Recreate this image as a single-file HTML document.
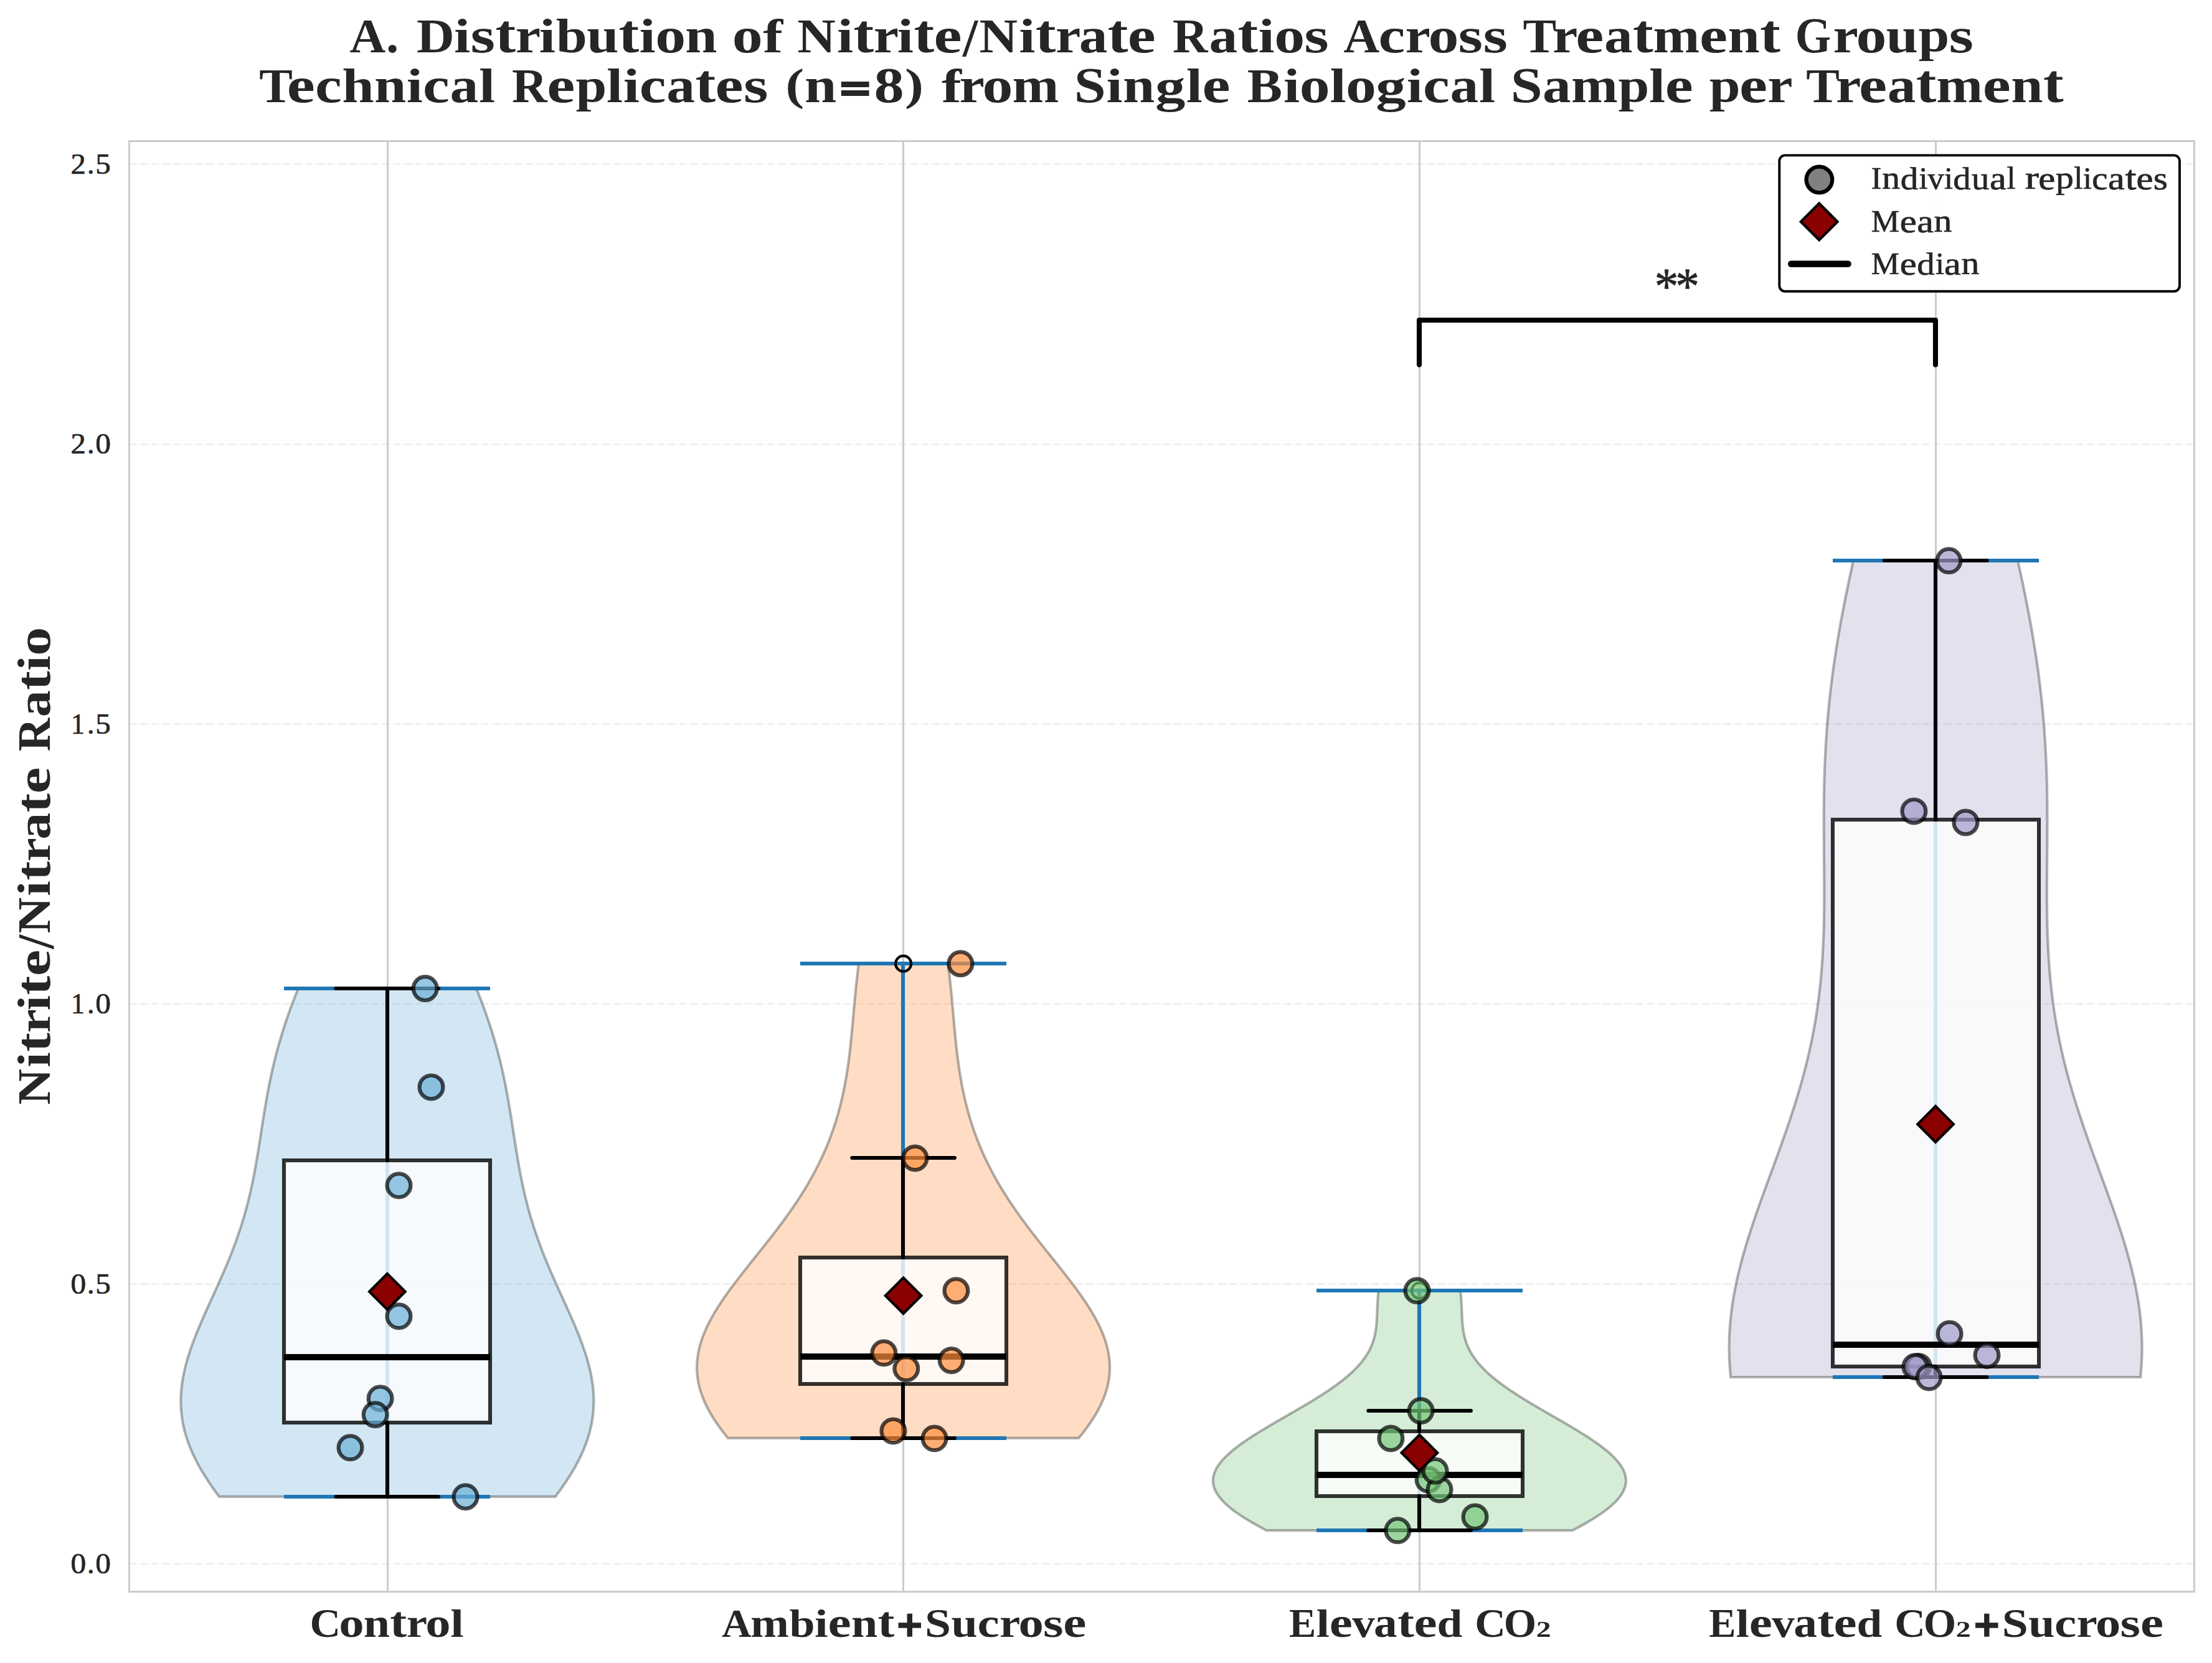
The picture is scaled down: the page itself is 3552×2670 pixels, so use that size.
<!DOCTYPE html>
<html><head><meta charset="utf-8"><title>Nitrite/Nitrate Ratios</title>
<style>html,body{margin:0;padding:0;background:#fff}body{width:3552px;height:2670px;overflow:hidden;font-family:"Liberation Serif",serif}svg{display:block}</style>
</head><body>
<svg width="3552" height="2670" viewBox="0 0 3552 2670">
<rect width="3552" height="2670" fill="#ffffff"/>
<g stroke="#cccccc" stroke-width="3.1" fill="none">
<line x1="622.5" y1="226.5" x2="622.5" y2="2555.5"/>
<line x1="1450.5" y1="226.5" x2="1450.5" y2="2555.5"/>
<line x1="2279.5" y1="226.5" x2="2279.5" y2="2555.5"/>
<line x1="3108.5" y1="226.5" x2="3108.5" y2="2555.5"/>
</g>
<g stroke="#cccccc" stroke-opacity="0.3" stroke-width="3.1" stroke-dasharray="12.33 5.33" fill="none">
<line x1="207.5" y1="2510.5" x2="3523.5" y2="2510.5"/>
<line x1="207.5" y1="2061.5" x2="3523.5" y2="2061.5"/>
<line x1="207.5" y1="1611.5" x2="3523.5" y2="1611.5"/>
<line x1="207.5" y1="1162.5" x2="3523.5" y2="1162.5"/>
<line x1="207.5" y1="713.5" x2="3523.5" y2="713.5"/>
<line x1="207.5" y1="263.5" x2="3523.5" y2="263.5"/>
</g>
<path d="M352.02,2402.9 L345.9,2394.66 340.03,2386.42 334.42,2378.17 329.09,2369.93 324.06,2361.69 319.34,2353.45 314.96,2345.2 310.91,2336.96 307.21,2328.72 303.86,2320.48 300.88,2312.23 298.28,2303.99 296.04,2295.75 294.18,2287.51 292.69,2279.26 291.57,2271.02 290.82,2262.78 290.43,2254.54 290.4,2246.29 290.71,2238.05 291.36,2229.81 292.32,2221.57 293.6,2213.32 295.17,2205.08 297.02,2196.84 299.13,2188.6 301.48,2180.35 304.05,2172.11 306.83,2163.87 309.8,2155.63 312.93,2147.38 316.21,2139.14 319.62,2130.9 323.13,2122.66 326.72,2114.42 330.38,2106.17 334.09,2097.93 337.83,2089.69 341.58,2081.45 345.33,2073.2 349.05,2064.96 352.74,2056.72 356.38,2048.48 359.96,2040.23 363.47,2031.99 366.89,2023.75 370.22,2015.51 373.45,2007.26 376.58,1999.02 379.59,1990.78 382.48,1982.54 385.26,1974.29 387.92,1966.05 390.46,1957.81 392.88,1949.57 395.18,1941.32 397.37,1933.08 399.45,1924.84 401.42,1916.6 403.29,1908.35 405.07,1900.11 406.76,1891.87 408.36,1883.63 409.9,1875.38 411.37,1867.14 412.79,1858.9 414.16,1850.66 415.49,1842.42 416.8,1834.17 418.09,1825.93 419.36,1817.69 420.64,1809.45 421.93,1801.2 423.24,1792.96 424.57,1784.72 425.94,1776.48 427.35,1768.23 428.81,1759.99 430.33,1751.75 431.92,1743.51 433.57,1735.26 435.31,1727.02 437.12,1718.78 439.02,1710.54 441.01,1702.29 443.09,1694.05 445.27,1685.81 447.55,1677.57 449.92,1669.32 452.39,1661.08 454.97,1652.84 457.64,1644.6 460.4,1636.35 463.26,1628.11 466.22,1619.87 469.26,1611.63 472.39,1603.38 475.6,1595.14 478.89,1586.9 764.91,1586.9 768.2,1595.14 771.41,1603.38 774.54,1611.63 777.58,1619.87 780.54,1628.11 783.4,1636.35 786.16,1644.6 788.83,1652.84 791.41,1661.08 793.88,1669.32 796.25,1677.57 798.53,1685.81 800.71,1694.05 802.79,1702.29 804.78,1710.54 806.68,1718.78 808.49,1727.02 810.23,1735.26 811.88,1743.51 813.47,1751.75 814.99,1759.99 816.45,1768.23 817.86,1776.48 819.23,1784.72 820.56,1792.96 821.87,1801.2 823.16,1809.45 824.44,1817.69 825.71,1825.93 827,1834.17 828.31,1842.42 829.64,1850.66 831.01,1858.9 832.43,1867.14 833.9,1875.38 835.44,1883.63 837.04,1891.87 838.73,1900.11 840.51,1908.35 842.38,1916.6 844.35,1924.84 846.43,1933.08 848.62,1941.32 850.92,1949.57 853.34,1957.81 855.88,1966.05 858.54,1974.29 861.32,1982.54 864.21,1990.78 867.22,1999.02 870.35,2007.26 873.58,2015.51 876.91,2023.75 880.33,2031.99 883.84,2040.23 887.42,2048.48 891.06,2056.72 894.75,2064.96 898.47,2073.2 902.22,2081.45 905.97,2089.69 909.71,2097.93 913.42,2106.17 917.08,2114.42 920.67,2122.66 924.18,2130.9 927.59,2139.14 930.87,2147.38 934,2155.63 936.97,2163.87 939.75,2172.11 942.32,2180.35 944.67,2188.6 946.78,2196.84 948.63,2205.08 950.2,2213.32 951.48,2221.57 952.44,2229.81 953.09,2238.05 953.4,2246.29 953.37,2254.54 952.98,2262.78 952.23,2271.02 951.11,2279.26 949.62,2287.51 947.76,2295.75 945.52,2303.99 942.92,2312.23 939.94,2320.48 936.59,2328.72 932.89,2336.96 928.84,2345.2 924.46,2353.45 919.74,2361.69 914.71,2369.93 909.38,2378.17 903.77,2386.42 897.9,2394.66 891.78,2402.9 Z" fill="#6baed6" fill-opacity="0.3" stroke="#000" stroke-opacity="0.3" stroke-width="4.17" stroke-linejoin="miter"/>
<path d="M1168.97,2308.9 L1162.77,2301.2 1156.9,2293.51 1151.4,2285.81 1146.27,2278.11 1141.54,2270.42 1137.23,2262.72 1133.35,2255.02 1129.91,2247.32 1126.94,2239.63 1124.43,2231.93 1122.4,2224.23 1120.86,2216.54 1119.79,2208.84 1119.2,2201.14 1119.1,2193.45 1119.47,2185.75 1120.31,2178.05 1121.6,2170.35 1123.34,2162.66 1125.51,2154.96 1128.1,2147.26 1131.09,2139.57 1134.45,2131.87 1138.17,2124.17 1142.23,2116.48 1146.6,2108.78 1151.25,2101.08 1156.17,2093.38 1161.33,2085.69 1166.7,2077.99 1172.25,2070.29 1177.97,2062.6 1183.82,2054.9 1189.77,2047.2 1195.82,2039.51 1201.92,2031.81 1208.06,2024.11 1214.22,2016.42 1220.37,2008.72 1226.5,2001.02 1232.59,1993.32 1238.61,1985.63 1244.56,1977.93 1250.41,1970.23 1256.16,1962.54 1261.8,1954.84 1267.31,1947.14 1272.68,1939.45 1277.91,1931.75 1282.98,1924.05 1287.9,1916.35 1292.67,1908.66 1297.26,1900.96 1301.69,1893.26 1305.95,1885.57 1310.05,1877.87 1313.97,1870.17 1317.72,1862.48 1321.31,1854.78 1324.73,1847.08 1327.99,1839.38 1331.09,1831.69 1334.03,1823.99 1336.81,1816.29 1339.45,1808.6 1341.93,1800.9 1344.28,1793.2 1346.48,1785.51 1348.56,1777.81 1350.5,1770.11 1352.32,1762.42 1354.02,1754.72 1355.6,1747.02 1357.08,1739.32 1358.46,1731.63 1359.75,1723.93 1360.94,1716.23 1362.05,1708.54 1363.09,1700.84 1364.05,1693.14 1364.96,1685.45 1365.81,1677.75 1366.61,1670.05 1367.38,1662.35 1368.11,1654.66 1368.82,1646.96 1369.51,1639.26 1370.19,1631.57 1370.87,1623.87 1371.56,1616.17 1372.25,1608.48 1372.97,1600.78 1373.71,1593.08 1374.48,1585.38 1375.28,1577.69 1376.13,1569.99 1377.02,1562.29 1377.96,1554.6 1378.96,1546.9 1522.24,1546.9 1523.24,1554.6 1524.18,1562.29 1525.07,1569.99 1525.92,1577.69 1526.72,1585.38 1527.49,1593.08 1528.23,1600.78 1528.95,1608.48 1529.64,1616.17 1530.33,1623.87 1531.01,1631.57 1531.69,1639.26 1532.38,1646.96 1533.09,1654.66 1533.82,1662.35 1534.59,1670.05 1535.39,1677.75 1536.24,1685.45 1537.15,1693.14 1538.11,1700.84 1539.15,1708.54 1540.26,1716.23 1541.45,1723.93 1542.74,1731.63 1544.12,1739.32 1545.6,1747.02 1547.18,1754.72 1548.88,1762.42 1550.7,1770.11 1552.64,1777.81 1554.72,1785.51 1556.92,1793.2 1559.27,1800.9 1561.75,1808.6 1564.39,1816.29 1567.17,1823.99 1570.11,1831.69 1573.21,1839.38 1576.47,1847.08 1579.89,1854.78 1583.48,1862.48 1587.23,1870.17 1591.15,1877.87 1595.25,1885.57 1599.51,1893.26 1603.94,1900.96 1608.53,1908.66 1613.3,1916.35 1618.22,1924.05 1623.29,1931.75 1628.52,1939.45 1633.89,1947.14 1639.4,1954.84 1645.04,1962.54 1650.79,1970.23 1656.64,1977.93 1662.59,1985.63 1668.61,1993.32 1674.7,2001.02 1680.83,2008.72 1686.98,2016.42 1693.14,2024.11 1699.28,2031.81 1705.38,2039.51 1711.43,2047.2 1717.38,2054.9 1723.23,2062.6 1728.95,2070.29 1734.5,2077.99 1739.87,2085.69 1745.03,2093.38 1749.95,2101.08 1754.6,2108.78 1758.97,2116.48 1763.03,2124.17 1766.75,2131.87 1770.11,2139.57 1773.1,2147.26 1775.69,2154.96 1777.86,2162.66 1779.6,2170.35 1780.89,2178.05 1781.73,2185.75 1782.1,2193.45 1782,2201.14 1781.41,2208.84 1780.34,2216.54 1778.8,2224.23 1776.77,2231.93 1774.26,2239.63 1771.29,2247.32 1767.85,2255.02 1763.97,2262.72 1759.66,2270.42 1754.93,2278.11 1749.8,2285.81 1744.3,2293.51 1738.43,2301.2 1732.23,2308.9 Z" fill="#fd8d3c" fill-opacity="0.3" stroke="#000" stroke-opacity="0.3" stroke-width="4.17" stroke-linejoin="miter"/>
<path d="M2033.6,2457.1 L2026.29,2453.21 2019.18,2449.32 2012.29,2445.43 2005.65,2441.54 1999.28,2437.65 1993.2,2433.75 1987.43,2429.86 1981.99,2425.97 1976.91,2422.08 1972.19,2418.19 1967.86,2414.3 1963.93,2410.41 1960.41,2406.52 1957.31,2402.63 1954.64,2398.74 1952.41,2394.85 1950.61,2390.95 1949.27,2387.06 1948.37,2383.17 1947.91,2379.28 1947.9,2375.39 1948.33,2371.5 1949.19,2367.61 1950.48,2363.72 1952.18,2359.83 1954.29,2355.94 1956.8,2352.05 1959.69,2348.15 1962.95,2344.26 1966.56,2340.37 1970.51,2336.48 1974.78,2332.59 1979.36,2328.7 1984.22,2324.81 1989.34,2320.92 1994.72,2317.03 2000.32,2313.14 2006.13,2309.25 2012.12,2305.35 2018.28,2301.46 2024.59,2297.57 2031.02,2293.68 2037.55,2289.79 2044.17,2285.9 2050.85,2282.01 2057.58,2278.12 2064.33,2274.23 2071.08,2270.34 2077.82,2266.45 2084.52,2262.55 2091.17,2258.66 2097.75,2254.77 2104.24,2250.88 2110.62,2246.99 2116.88,2243.1 2123.01,2239.21 2128.98,2235.32 2134.79,2231.43 2140.42,2227.54 2145.87,2223.65 2151.11,2219.75 2156.14,2215.86 2160.95,2211.97 2165.54,2208.08 2169.89,2204.19 2174.01,2200.3 2177.88,2196.41 2181.51,2192.52 2184.9,2188.63 2188.04,2184.74 2190.95,2180.85 2193.61,2176.95 2196.04,2173.06 2198.25,2169.17 2200.23,2165.28 2202,2161.39 2203.57,2157.5 2204.94,2153.61 2206.14,2149.72 2207.16,2145.83 2208.04,2141.94 2208.77,2138.05 2209.37,2134.15 2209.87,2130.26 2210.27,2126.37 2210.59,2122.48 2210.84,2118.59 2211.05,2114.7 2211.21,2110.81 2211.36,2106.92 2211.51,2103.03 2211.66,2099.14 2211.83,2095.25 2212.04,2091.35 2212.29,2087.46 2212.59,2083.57 2212.95,2079.68 2213.39,2075.79 2213.9,2071.9 2344.9,2071.9 2345.41,2075.79 2345.85,2079.68 2346.21,2083.57 2346.51,2087.46 2346.76,2091.35 2346.97,2095.25 2347.14,2099.14 2347.29,2103.03 2347.44,2106.92 2347.59,2110.81 2347.75,2114.7 2347.96,2118.59 2348.21,2122.48 2348.53,2126.37 2348.93,2130.26 2349.43,2134.15 2350.03,2138.05 2350.76,2141.94 2351.64,2145.83 2352.66,2149.72 2353.86,2153.61 2355.23,2157.5 2356.8,2161.39 2358.57,2165.28 2360.55,2169.17 2362.76,2173.06 2365.19,2176.95 2367.85,2180.85 2370.76,2184.74 2373.9,2188.63 2377.29,2192.52 2380.92,2196.41 2384.79,2200.3 2388.91,2204.19 2393.26,2208.08 2397.85,2211.97 2402.66,2215.86 2407.69,2219.75 2412.93,2223.65 2418.38,2227.54 2424.01,2231.43 2429.82,2235.32 2435.79,2239.21 2441.92,2243.1 2448.18,2246.99 2454.56,2250.88 2461.05,2254.77 2467.63,2258.66 2474.28,2262.55 2480.98,2266.45 2487.72,2270.34 2494.47,2274.23 2501.22,2278.12 2507.95,2282.01 2514.63,2285.9 2521.25,2289.79 2527.78,2293.68 2534.21,2297.57 2540.52,2301.46 2546.68,2305.35 2552.67,2309.25 2558.48,2313.14 2564.08,2317.03 2569.46,2320.92 2574.58,2324.81 2579.44,2328.7 2584.02,2332.59 2588.29,2336.48 2592.24,2340.37 2595.85,2344.26 2599.11,2348.15 2602,2352.05 2604.51,2355.94 2606.62,2359.83 2608.32,2363.72 2609.61,2367.61 2610.47,2371.5 2610.9,2375.39 2610.89,2379.28 2610.43,2383.17 2609.53,2387.06 2608.19,2390.95 2606.39,2394.85 2604.16,2398.74 2601.49,2402.63 2598.39,2406.52 2594.87,2410.41 2590.94,2414.3 2586.61,2418.19 2581.89,2422.08 2576.81,2425.97 2571.37,2429.86 2565.6,2433.75 2559.52,2437.65 2553.15,2441.54 2546.51,2445.43 2539.62,2449.32 2532.51,2453.21 2525.2,2457.1 Z" fill="#74c476" fill-opacity="0.3" stroke="#000" stroke-opacity="0.3" stroke-width="4.17" stroke-linejoin="miter"/>
<path d="M2779.14,2211 L2777.9,2197.76 2777.06,2184.52 2776.63,2171.27 2776.6,2158.03 2776.96,2144.79 2777.72,2131.55 2778.85,2118.3 2780.35,2105.06 2782.2,2091.82 2784.4,2078.58 2786.92,2065.33 2789.75,2052.09 2792.87,2038.85 2796.26,2025.61 2799.9,2012.36 2803.77,1999.12 2807.84,1985.88 2812.09,1972.64 2816.51,1959.39 2821.05,1946.15 2825.71,1932.91 2830.46,1919.67 2835.26,1906.42 2840.11,1893.18 2844.97,1879.94 2849.83,1866.7 2854.66,1853.45 2859.44,1840.21 2864.14,1826.97 2868.76,1813.73 2873.28,1800.48 2877.67,1787.24 2881.92,1774 2886.03,1760.76 2889.96,1747.52 2893.73,1734.27 2897.31,1721.03 2900.7,1707.79 2903.89,1694.55 2906.88,1681.3 2909.67,1668.06 2912.24,1654.82 2914.62,1641.58 2916.79,1628.33 2918.75,1615.09 2920.52,1601.85 2922.1,1588.61 2923.49,1575.36 2924.7,1562.12 2925.74,1548.88 2926.63,1535.64 2927.36,1522.39 2927.95,1509.15 2928.42,1495.91 2928.78,1482.67 2929.03,1469.42 2929.19,1456.18 2929.27,1442.94 2929.29,1429.7 2929.26,1416.45 2929.19,1403.21 2929.1,1389.97 2928.99,1376.73 2928.89,1363.48 2928.8,1350.24 2928.73,1337 2928.69,1323.76 2928.7,1310.52 2928.76,1297.27 2928.88,1284.03 2929.08,1270.79 2929.36,1257.55 2929.72,1244.3 2930.17,1231.06 2930.73,1217.82 2931.38,1204.58 2932.14,1191.33 2933.02,1178.09 2934,1164.85 2935.1,1151.61 2936.32,1138.36 2937.65,1125.12 2939.1,1111.88 2940.66,1098.64 2942.34,1085.39 2944.13,1072.15 2946.03,1058.91 2948.04,1045.67 2950.15,1032.42 2952.36,1019.18 2954.68,1005.94 2957.08,992.7 2959.57,979.45 2962.15,966.21 2964.8,952.97 2967.52,939.73 2970.32,926.48 2973.17,913.24 2976.09,900 3240.11,900 3243.03,913.24 3245.88,926.48 3248.68,939.73 3251.4,952.97 3254.05,966.21 3256.63,979.45 3259.12,992.7 3261.52,1005.94 3263.84,1019.18 3266.05,1032.42 3268.16,1045.67 3270.17,1058.91 3272.07,1072.15 3273.86,1085.39 3275.54,1098.64 3277.1,1111.88 3278.55,1125.12 3279.88,1138.36 3281.1,1151.61 3282.2,1164.85 3283.18,1178.09 3284.06,1191.33 3284.82,1204.58 3285.47,1217.82 3286.03,1231.06 3286.48,1244.3 3286.84,1257.55 3287.12,1270.79 3287.32,1284.03 3287.44,1297.27 3287.5,1310.52 3287.51,1323.76 3287.47,1337 3287.4,1350.24 3287.31,1363.48 3287.21,1376.73 3287.1,1389.97 3287.01,1403.21 3286.94,1416.45 3286.91,1429.7 3286.93,1442.94 3287.01,1456.18 3287.17,1469.42 3287.42,1482.67 3287.78,1495.91 3288.25,1509.15 3288.84,1522.39 3289.57,1535.64 3290.46,1548.88 3291.5,1562.12 3292.71,1575.36 3294.1,1588.61 3295.68,1601.85 3297.45,1615.09 3299.41,1628.33 3301.58,1641.58 3303.96,1654.82 3306.53,1668.06 3309.32,1681.3 3312.31,1694.55 3315.5,1707.79 3318.89,1721.03 3322.47,1734.27 3326.24,1747.52 3330.17,1760.76 3334.28,1774 3338.53,1787.24 3342.92,1800.48 3347.44,1813.73 3352.06,1826.97 3356.76,1840.21 3361.54,1853.45 3366.37,1866.7 3371.23,1879.94 3376.09,1893.18 3380.94,1906.42 3385.74,1919.67 3390.49,1932.91 3395.15,1946.15 3399.69,1959.39 3404.11,1972.64 3408.36,1985.88 3412.43,1999.12 3416.3,2012.36 3419.94,2025.61 3423.33,2038.85 3426.45,2052.09 3429.28,2065.33 3431.8,2078.58 3434,2091.82 3435.85,2105.06 3437.35,2118.3 3438.48,2131.55 3439.24,2144.79 3439.6,2158.03 3439.57,2171.27 3439.14,2184.52 3438.3,2197.76 3437.06,2211 Z" fill="#9e9ac8" fill-opacity="0.3" stroke="#000" stroke-opacity="0.3" stroke-width="4.17" stroke-linejoin="miter"/>
<g stroke="#1f77b4" stroke-width="6.1" fill="none">
<line x1="622" y1="1586.9" x2="622" y2="2402.9"/>
<line x1="456" y1="1587" x2="787" y2="1587"/>
<line x1="456" y1="2403" x2="787" y2="2403"/>
<line x1="1450" y1="1546.9" x2="1450" y2="2308.9"/>
<line x1="1285" y1="1547" x2="1616" y2="1547"/>
<line x1="1285" y1="2309" x2="1616" y2="2309"/>
<line x1="2279" y1="2071.9" x2="2279" y2="2457.1"/>
<line x1="2114" y1="2072" x2="2445" y2="2072"/>
<line x1="2114" y1="2457" x2="2445" y2="2457"/>
<line x1="3108" y1="900" x2="3108" y2="2211"/>
<line x1="2943" y1="900" x2="3274" y2="900"/>
<line x1="2943" y1="2211" x2="3274" y2="2211"/>
</g>
<rect x="456" y="1863" width="331" height="421" fill="#fff" fill-opacity="0.8" stroke="#000" stroke-opacity="0.8" stroke-width="6.1"/>
<rect x="1285" y="2019" width="331" height="203" fill="#fff" fill-opacity="0.8" stroke="#000" stroke-opacity="0.8" stroke-width="6.1"/>
<rect x="2114" y="2298" width="331" height="104" fill="#fff" fill-opacity="0.8" stroke="#000" stroke-opacity="0.8" stroke-width="6.1"/>
<rect x="2943" y="1316" width="331" height="878" fill="#fff" fill-opacity="0.8" stroke="#000" stroke-opacity="0.8" stroke-width="6.1"/>
<g stroke="#000" stroke-width="6.1" stroke-linecap="round" fill="none">
<line x1="622" y1="1863.1" x2="622" y2="1586.9"/>
<line x1="622" y1="2283.9" x2="622" y2="2402.9"/>
<line x1="539.4" y1="1587" x2="704" y2="1587"/>
<line x1="539.4" y1="2403" x2="704" y2="2403"/>
<line x1="1450" y1="2019" x2="1450" y2="1859"/>
<line x1="1450" y1="2222" x2="1450" y2="2308.9"/>
<line x1="1368.3" y1="1859" x2="1532.9" y2="1859"/>
<line x1="1368.3" y1="2309" x2="1532.9" y2="2309"/>
<line x1="2279" y1="2298.1" x2="2279" y2="2264.9"/>
<line x1="2279" y1="2402.1" x2="2279" y2="2457.1"/>
<line x1="2197.3" y1="2265" x2="2361.9" y2="2265"/>
<line x1="2197.3" y1="2457" x2="2361.9" y2="2457"/>
<line x1="3108" y1="1315.9" x2="3108" y2="900"/>
<line x1="3108" y1="2193.9" x2="3108" y2="2211"/>
<line x1="3025.9" y1="900" x2="3190.5" y2="900"/>
<line x1="3025.9" y1="2211" x2="3190.5" y2="2211"/>
</g>
<g stroke="#000" stroke-width="10.1" fill="none">
<line x1="456" y1="2179" x2="787" y2="2179"/>
<line x1="1285" y1="2178" x2="1616" y2="2178"/>
<line x1="2114" y1="2368" x2="2445" y2="2368"/>
<line x1="2943" y1="2159" x2="3274" y2="2159"/>
</g>
<circle cx="1450.6" cy="1547.2" r="12.5" fill="none" stroke="#000" stroke-width="4.17"/>
<circle cx="2279.4" cy="2072.2" r="12.5" fill="none" stroke="#000" stroke-width="4.17"/>
<g fill="#6baed6" fill-opacity="0.7" stroke="#000" stroke-opacity="0.7" stroke-width="6.25">
<circle cx="682.7" cy="1587.1" r="18.9"/>
<circle cx="692.5" cy="1745.4" r="18.9"/>
<circle cx="640.5" cy="1903.3" r="18.9"/>
<circle cx="640.5" cy="2113.3" r="18.9"/>
<circle cx="610.6" cy="2245.3" r="18.9"/>
<circle cx="602.6" cy="2271.3" r="18.9"/>
<circle cx="562.5" cy="2324.3" r="18.9"/>
<circle cx="747.5" cy="2403.2" r="18.9"/>
</g>
<g fill="#fd8d3c" fill-opacity="0.7" stroke="#000" stroke-opacity="0.7" stroke-width="6.25">
<circle cx="1542.4" cy="1547.2" r="18.9"/>
<circle cx="1469.4" cy="1859.4" r="18.9"/>
<circle cx="1535.4" cy="2072.3" r="18.9"/>
<circle cx="1419.3" cy="2172.3" r="18.9"/>
<circle cx="1527.7" cy="2184.1" r="18.9"/>
<circle cx="1455.3" cy="2197.3" r="18.9"/>
<circle cx="1434.4" cy="2297.5" r="18.9"/>
<circle cx="1500.5" cy="2309.5" r="18.9"/>
</g>
<g fill="#74c476" fill-opacity="0.7" stroke="#000" stroke-opacity="0.7" stroke-width="6.25">
<circle cx="2275.5" cy="2072.3" r="18.9"/>
<circle cx="2281.6" cy="2265.1" r="18.9"/>
<circle cx="2233.4" cy="2309.4" r="18.9"/>
<circle cx="2293.6" cy="2375.8" r="18.9"/>
<circle cx="2311.5" cy="2391.5" r="18.9"/>
<circle cx="2304.6" cy="2361.6" r="18.9"/>
<circle cx="2368.5" cy="2435.4" r="18.9"/>
<circle cx="2244.3" cy="2457.3" r="18.9"/>
</g>
<g fill="#9e9ac8" fill-opacity="0.7" stroke="#000" stroke-opacity="0.7" stroke-width="6.25">
<circle cx="3129.4" cy="900.3" r="18.9"/>
<circle cx="3073.4" cy="1302.4" r="18.9"/>
<circle cx="3156.4" cy="1320.4" r="18.9"/>
<circle cx="3130.6" cy="2141.4" r="18.9"/>
<circle cx="3190.5" cy="2175.9" r="18.9"/>
<circle cx="3080.8" cy="2193.9" r="18.9"/>
<circle cx="3075.5" cy="2194.2" r="18.9"/>
<circle cx="3097.6" cy="2211.5" r="18.9"/>
</g>
<g fill="#8b0000" stroke="#000" stroke-width="4.17" stroke-linejoin="miter">
<path d="M621.9,2044.85 L650.75,2073.7 L621.9,2102.55 L593.05,2073.7 Z"/>
<path d="M1450.6,2051.35 L1479.45,2080.2 L1450.6,2109.05 L1421.75,2080.2 Z"/>
<path d="M2279.4,2303.65 L2308.25,2332.5 L2279.4,2361.35 L2250.55,2332.5 Z"/>
<path d="M3108.1,1776.05 L3136.95,1804.9 L3108.1,1833.75 L3079.25,1804.9 Z"/>
</g>
<path d="M2279,585.6 L2279,514 L3108,514 L3108,585.6" fill="none" stroke="#000" stroke-width="8.1" stroke-linecap="round" stroke-linejoin="round"/>
<rect x="207.5" y="226.5" width="3316" height="2329" fill="none" stroke="#cccccc" stroke-width="3.1"/>
<rect x="2857.3" y="249.4" width="642.7" height="218.4" rx="9" ry="9" fill="#fff" fill-opacity="0.95" stroke="#000" stroke-width="3.9"/>
<circle cx="2921.4" cy="288.5" r="20.83" fill="#808080" stroke="#000" stroke-width="6.25"/>
<path d="M2921.2,326.5 L2950.6,355.9 L2921.2,385.3 L2891.8,355.9 Z" fill="#8b0000" stroke="#000" stroke-width="4.17"/>
<line x1="2876.2" y1="423.7" x2="2967.6" y2="423.7" stroke="#000" stroke-width="10.4" stroke-linecap="round"/>
<g font-family="'Liberation Serif', serif" style="font-variant-ligatures:none;font-kerning:normal">
<g><text transform="translate(561.61,84.1) scale(1.0251,1.0040)" font-size="77.92" font-weight="700" fill="#262626">A</text><text transform="translate(620.09,83.95) scale(1.0422,1.0431)" font-size="77.92" font-weight="700" fill="#262626">.</text> <text transform="translate(669.07,83.94) scale(1.0792,1.0090)" font-size="77.92" font-weight="700" fill="#262626">D</text><text transform="translate(729.01,84.1) scale(1.2096,0.9955)" font-size="77.92" font-weight="700" fill="#262626">i</text><text transform="translate(755.53,84.31) scale(1.3025,1.0346)" font-size="77.92" font-weight="700" fill="#262626">s</text><text transform="translate(795.56,84.26) scale(1.2600,1.1020)" font-size="77.92" font-weight="700" fill="#262626">t</text><text transform="translate(827.75,84.1) scale(1.1688,1.0237)" font-size="77.92" font-weight="700" fill="#262626">r</text><text transform="translate(865.83,84.1) scale(1.2096,0.9955)" font-size="77.92" font-weight="700" fill="#262626">i</text><text transform="translate(892.88,84.34) scale(1.1500,0.9999)" font-size="77.92" font-weight="700" fill="#262626">b</text><text transform="translate(942.15,84.13) scale(1.1842,1.0288)" font-size="77.92" font-weight="700" fill="#262626">u</text><text transform="translate(993.53,84.26) scale(1.2600,1.1020)" font-size="77.92" font-weight="700" fill="#262626">t</text><text transform="translate(1026.48,84.1) scale(1.2096,0.9955)" font-size="77.92" font-weight="700" fill="#262626">i</text><text transform="translate(1052.22,84.31) scale(1.2570,1.0346)" font-size="77.92" font-weight="700" fill="#262626">o</text><text transform="translate(1100.23,84.1) scale(1.1842,1.0288)" font-size="77.92" font-weight="700" fill="#262626">n</text> <text transform="translate(1175.63,84.31) scale(1.2570,1.0346)" font-size="77.92" font-weight="700" fill="#262626">o</text><text transform="translate(1225.17,84.1) scale(1.2279,0.9811)" font-size="77.92" font-weight="700" fill="#262626">f</text> <text transform="translate(1280.31,84.1) scale(1.0937,1.0121)" font-size="77.92" font-weight="700" fill="#262626">N</text><text transform="translate(1343.92,84.1) scale(1.2096,0.9955)" font-size="77.92" font-weight="700" fill="#262626">i</text><text transform="translate(1370.59,84.26) scale(1.2600,1.1020)" font-size="77.92" font-weight="700" fill="#262626">t</text><text transform="translate(1402.79,84.1) scale(1.1688,1.0237)" font-size="77.92" font-weight="700" fill="#262626">r</text><text transform="translate(1440.87,84.1) scale(1.2096,0.9955)" font-size="77.92" font-weight="700" fill="#262626">i</text><text transform="translate(1467.54,84.26) scale(1.2600,1.1020)" font-size="77.92" font-weight="700" fill="#262626">t</text><text transform="translate(1499.59,84.36) scale(1.3022,1.0383)" font-size="77.92" font-weight="700" fill="#262626">e</text><text transform="translate(1546.07,89.82) scale(1.1146,1.1175)" font-size="77.92" font-weight="700" fill="#262626">/</text><text transform="translate(1572.57,84.1) scale(1.0937,1.0121)" font-size="77.92" font-weight="700" fill="#262626">N</text><text transform="translate(1636.18,84.1) scale(1.2096,0.9955)" font-size="77.92" font-weight="700" fill="#262626">i</text><text transform="translate(1662.85,84.26) scale(1.2600,1.1020)" font-size="77.92" font-weight="700" fill="#262626">t</text><text transform="translate(1695.05,84.1) scale(1.1688,1.0237)" font-size="77.92" font-weight="700" fill="#262626">r</text><text transform="translate(1732.75,84.31) scale(1.1727,1.0390)" font-size="77.92" font-weight="700" fill="#262626">a</text><text transform="translate(1778.79,84.26) scale(1.2600,1.1020)" font-size="77.92" font-weight="700" fill="#262626">t</text><text transform="translate(1810.83,84.36) scale(1.3022,1.0383)" font-size="77.92" font-weight="700" fill="#262626">e</text> <text transform="translate(1883.1,84.1) scale(1.0060,1.0121)" font-size="77.92" font-weight="700" fill="#262626">R</text><text transform="translate(1941.55,84.31) scale(1.1727,1.0390)" font-size="77.92" font-weight="700" fill="#262626">a</text><text transform="translate(1987.59,84.26) scale(1.2600,1.1020)" font-size="77.92" font-weight="700" fill="#262626">t</text><text transform="translate(2020.54,84.1) scale(1.2096,0.9955)" font-size="77.92" font-weight="700" fill="#262626">i</text><text transform="translate(2046.28,84.31) scale(1.2570,1.0346)" font-size="77.92" font-weight="700" fill="#262626">o</text><text transform="translate(2094.31,84.31) scale(1.3025,1.0346)" font-size="77.92" font-weight="700" fill="#262626">s</text> <text transform="translate(2157.55,84.1) scale(1.0251,1.0040)" font-size="77.92" font-weight="700" fill="#262626">A</text><text transform="translate(2213.46,84.36) scale(1.2355,1.0359)" font-size="77.92" font-weight="700" fill="#262626">c</text><text transform="translate(2256.56,84.1) scale(1.1688,1.0237)" font-size="77.92" font-weight="700" fill="#262626">r</text><text transform="translate(2293.47,84.31) scale(1.2570,1.0346)" font-size="77.92" font-weight="700" fill="#262626">o</text><text transform="translate(2341.5,84.31) scale(1.3025,1.0346)" font-size="77.92" font-weight="700" fill="#262626">s</text><text transform="translate(2381.38,84.31) scale(1.3025,1.0346)" font-size="77.92" font-weight="700" fill="#262626">s</text> <text transform="translate(2445.49,84.1) scale(1.0326,1.0121)" font-size="77.92" font-weight="700" fill="#262626">T</text><text transform="translate(2493.12,84.1) scale(1.1688,1.0237)" font-size="77.92" font-weight="700" fill="#262626">r</text><text transform="translate(2530.29,84.36) scale(1.3022,1.0383)" font-size="77.92" font-weight="700" fill="#262626">e</text><text transform="translate(2575.88,84.31) scale(1.1727,1.0390)" font-size="77.92" font-weight="700" fill="#262626">a</text><text transform="translate(2621.92,84.26) scale(1.2600,1.1020)" font-size="77.92" font-weight="700" fill="#262626">t</text><text transform="translate(2654.54,84.1) scale(1.1532,1.0288)" font-size="77.92" font-weight="700" fill="#262626">m</text><text transform="translate(2728.92,84.36) scale(1.3022,1.0383)" font-size="77.92" font-weight="700" fill="#262626">e</text><text transform="translate(2774.49,84.1) scale(1.1842,1.0288)" font-size="77.92" font-weight="700" fill="#262626">n</text><text transform="translate(2826.16,84.26) scale(1.2600,1.1020)" font-size="77.92" font-weight="700" fill="#262626">t</text> <text transform="translate(2882.78,84.32) scale(0.9496,1.0232)" font-size="77.92" font-weight="700" fill="#262626">G</text><text transform="translate(2943.5,84.1) scale(1.1688,1.0237)" font-size="77.92" font-weight="700" fill="#262626">r</text><text transform="translate(2980.41,84.31) scale(1.2570,1.0346)" font-size="77.92" font-weight="700" fill="#262626">o</text><text transform="translate(3028.71,84.13) scale(1.1842,1.0288)" font-size="77.92" font-weight="700" fill="#262626">u</text><text transform="translate(3080.47,82.49) scale(1.1500,0.9849)" font-size="77.92" font-weight="700" fill="#262626">p</text><text transform="translate(3129.47,84.31) scale(1.3025,1.0346)" font-size="77.92" font-weight="700" fill="#262626">s</text></g>
<g><text transform="translate(416.24,164.2) scale(1.0326,1.0121)" font-size="77.92" font-weight="700" fill="#262626">T</text><text transform="translate(460.71,164.46) scale(1.3022,1.0383)" font-size="77.92" font-weight="700" fill="#262626">e</text><text transform="translate(505.95,164.46) scale(1.2355,1.0359)" font-size="77.92" font-weight="700" fill="#262626">c</text><text transform="translate(549.35,164.2) scale(1.1856,0.9955)" font-size="77.92" font-weight="700" fill="#262626">h</text><text transform="translate(600.91,164.2) scale(1.1842,1.0288)" font-size="77.92" font-weight="700" fill="#262626">n</text><text transform="translate(652.81,164.2) scale(1.2096,0.9955)" font-size="77.92" font-weight="700" fill="#262626">i</text><text transform="translate(678.99,164.46) scale(1.2355,1.0359)" font-size="77.92" font-weight="700" fill="#262626">c</text><text transform="translate(722.47,164.41) scale(1.1727,1.0390)" font-size="77.92" font-weight="700" fill="#262626">a</text><text transform="translate(768.98,164.2) scale(1.2088,0.9955)" font-size="77.92" font-weight="700" fill="#262626">l</text> <text transform="translate(821.95,164.2) scale(1.0060,1.0121)" font-size="77.92" font-weight="700" fill="#262626">R</text><text transform="translate(878.27,164.46) scale(1.3022,1.0383)" font-size="77.92" font-weight="700" fill="#262626">e</text><text transform="translate(924.39,162.59) scale(1.1500,0.9849)" font-size="77.92" font-weight="700" fill="#262626">p</text><text transform="translate(974.01,164.2) scale(1.2088,0.9955)" font-size="77.92" font-weight="700" fill="#262626">l</text><text transform="translate(1000.68,164.2) scale(1.2096,0.9955)" font-size="77.92" font-weight="700" fill="#262626">i</text><text transform="translate(1026.86,164.46) scale(1.2355,1.0359)" font-size="77.92" font-weight="700" fill="#262626">c</text><text transform="translate(1070.34,164.41) scale(1.1727,1.0390)" font-size="77.92" font-weight="700" fill="#262626">a</text><text transform="translate(1116.38,164.36) scale(1.2600,1.1020)" font-size="77.92" font-weight="700" fill="#262626">t</text><text transform="translate(1148.43,164.46) scale(1.3022,1.0383)" font-size="77.92" font-weight="700" fill="#262626">e</text><text transform="translate(1194.02,164.41) scale(1.3025,1.0346)" font-size="77.92" font-weight="700" fill="#262626">s</text> <text transform="translate(1261.31,160) scale(1.1563,0.9179)" font-size="77.92" font-weight="700" fill="#262626">(</text><text transform="translate(1292.05,164.2) scale(1.1842,1.0288)" font-size="77.92" font-weight="700" fill="#262626">n</text><text transform="translate(1348.86,165.89) scale(1.1102,0.9243)" font-size="77.92" font-weight="700" fill="#262626" stroke="#262626" stroke-width="4.08" stroke-linejoin="miter">=</text><text transform="translate(1403.41,164.43) scale(1.2377,1.0190)" font-size="77.92" font-weight="700" fill="#262626">8</text><text transform="translate(1452.94,160) scale(1.1579,0.9179)" font-size="77.92" font-weight="700" fill="#262626">)</text> <text transform="translate(1511.89,164.2) scale(1.2279,0.9811)" font-size="77.92" font-weight="700" fill="#262626">f</text><text transform="translate(1540.48,164.2) scale(1.1688,1.0237)" font-size="77.92" font-weight="700" fill="#262626">r</text><text transform="translate(1577.38,164.41) scale(1.2570,1.0346)" font-size="77.92" font-weight="700" fill="#262626">o</text><text transform="translate(1625.46,164.2) scale(1.1532,1.0288)" font-size="77.92" font-weight="700" fill="#262626">m</text> <text transform="translate(1724.84,164.42) scale(1.1772,1.0232)" font-size="77.92" font-weight="700" fill="#262626">S</text><text transform="translate(1776.56,164.2) scale(1.2096,0.9955)" font-size="77.92" font-weight="700" fill="#262626">i</text><text transform="translate(1803.07,164.2) scale(1.1842,1.0288)" font-size="77.92" font-weight="700" fill="#262626">n</text><text transform="translate(1854.97,163.84) scale(1.2438,0.9358)" font-size="77.92" font-weight="700" fill="#262626">g</text><text transform="translate(1904.73,164.2) scale(1.2088,0.9955)" font-size="77.92" font-weight="700" fill="#262626">l</text><text transform="translate(1930.5,164.46) scale(1.3022,1.0383)" font-size="77.92" font-weight="700" fill="#262626">e</text> <text transform="translate(2002.71,163.97) scale(1.0850,1.0076)" font-size="77.92" font-weight="700" fill="#262626">B</text><text transform="translate(2061,164.2) scale(1.2096,0.9955)" font-size="77.92" font-weight="700" fill="#262626">i</text><text transform="translate(2086.74,164.41) scale(1.2570,1.0346)" font-size="77.92" font-weight="700" fill="#262626">o</text><text transform="translate(2135.39,164.2) scale(1.2088,0.9955)" font-size="77.92" font-weight="700" fill="#262626">l</text><text transform="translate(2160.89,164.41) scale(1.2570,1.0346)" font-size="77.92" font-weight="700" fill="#262626">o</text><text transform="translate(2209.31,163.84) scale(1.2438,0.9358)" font-size="77.92" font-weight="700" fill="#262626">g</text><text transform="translate(2258.84,164.2) scale(1.2096,0.9955)" font-size="77.92" font-weight="700" fill="#262626">i</text><text transform="translate(2285.02,164.46) scale(1.2355,1.0359)" font-size="77.92" font-weight="700" fill="#262626">c</text><text transform="translate(2328.5,164.41) scale(1.1727,1.0390)" font-size="77.92" font-weight="700" fill="#262626">a</text><text transform="translate(2375.01,164.2) scale(1.2088,0.9955)" font-size="77.92" font-weight="700" fill="#262626">l</text> <text transform="translate(2425.78,164.42) scale(1.1772,1.0232)" font-size="77.92" font-weight="700" fill="#262626">S</text><text transform="translate(2477.12,164.41) scale(1.1727,1.0390)" font-size="77.92" font-weight="700" fill="#262626">a</text><text transform="translate(2523.05,164.2) scale(1.1532,1.0288)" font-size="77.92" font-weight="700" fill="#262626">m</text><text transform="translate(2598.49,162.59) scale(1.1500,0.9849)" font-size="77.92" font-weight="700" fill="#262626">p</text><text transform="translate(2648.1,164.2) scale(1.2088,0.9955)" font-size="77.92" font-weight="700" fill="#262626">l</text><text transform="translate(2673.87,164.46) scale(1.3022,1.0383)" font-size="77.92" font-weight="700" fill="#262626">e</text> <text transform="translate(2744.65,162.59) scale(1.1500,0.9849)" font-size="77.92" font-weight="700" fill="#262626">p</text><text transform="translate(2793.12,164.46) scale(1.3022,1.0383)" font-size="77.92" font-weight="700" fill="#262626">e</text><text transform="translate(2838.34,164.2) scale(1.1688,1.0237)" font-size="77.92" font-weight="700" fill="#262626">r</text> <text transform="translate(2900.27,164.2) scale(1.0326,1.0121)" font-size="77.92" font-weight="700" fill="#262626">T</text><text transform="translate(2947.89,164.2) scale(1.1688,1.0237)" font-size="77.92" font-weight="700" fill="#262626">r</text><text transform="translate(2985.06,164.46) scale(1.3022,1.0383)" font-size="77.92" font-weight="700" fill="#262626">e</text><text transform="translate(3030.66,164.41) scale(1.1727,1.0390)" font-size="77.92" font-weight="700" fill="#262626">a</text><text transform="translate(3076.7,164.36) scale(1.2600,1.1020)" font-size="77.92" font-weight="700" fill="#262626">t</text><text transform="translate(3109.31,164.2) scale(1.1532,1.0288)" font-size="77.92" font-weight="700" fill="#262626">m</text><text transform="translate(3183.69,164.46) scale(1.3022,1.0383)" font-size="77.92" font-weight="700" fill="#262626">e</text><text transform="translate(3229.26,164.2) scale(1.1842,1.0288)" font-size="77.92" font-weight="700" fill="#262626">n</text><text transform="translate(3280.93,164.36) scale(1.2600,1.1020)" font-size="77.92" font-weight="700" fill="#262626">t</text></g>
<g><text transform="translate(80,1773.63) rotate(-90) scale(1.0938,1.0121)" font-size="73.33" font-weight="700" fill="#262626">N</text><text transform="translate(80,1713.76) rotate(-90) scale(1.2096,0.9955)" font-size="73.33" font-weight="700" fill="#262626">i</text><text transform="translate(80.15,1688.66) rotate(-90) scale(1.2600,1.1020)" font-size="73.33" font-weight="700" fill="#262626">t</text><text transform="translate(80,1658.36) rotate(-90) scale(1.1688,1.0237)" font-size="73.33" font-weight="700" fill="#262626">r</text><text transform="translate(80,1622.52) rotate(-90) scale(1.2096,0.9955)" font-size="73.33" font-weight="700" fill="#262626">i</text><text transform="translate(80.15,1597.41) rotate(-90) scale(1.2600,1.1020)" font-size="73.33" font-weight="700" fill="#262626">t</text><text transform="translate(80.25,1567.25) rotate(-90) scale(1.3022,1.0383)" font-size="73.33" font-weight="700" fill="#262626">e</text><text transform="translate(85.38,1523.51) rotate(-90) scale(1.1146,1.1175)" font-size="73.33" font-weight="700" fill="#262626">/</text><text transform="translate(80,1498.56) rotate(-90) scale(1.0938,1.0121)" font-size="73.33" font-weight="700" fill="#262626">N</text><text transform="translate(80,1438.7) rotate(-90) scale(1.2096,0.9955)" font-size="73.33" font-weight="700" fill="#262626">i</text><text transform="translate(80.15,1413.59) rotate(-90) scale(1.2600,1.1020)" font-size="73.33" font-weight="700" fill="#262626">t</text><text transform="translate(80,1383.29) rotate(-90) scale(1.1688,1.0237)" font-size="73.33" font-weight="700" fill="#262626">r</text><text transform="translate(80.2,1347.81) rotate(-90) scale(1.1727,1.0390)" font-size="73.33" font-weight="700" fill="#262626">a</text><text transform="translate(80.15,1304.48) rotate(-90) scale(1.2600,1.1020)" font-size="73.33" font-weight="700" fill="#262626">t</text><text transform="translate(80.25,1274.32) rotate(-90) scale(1.3022,1.0383)" font-size="73.33" font-weight="700" fill="#262626">e</text> <text transform="translate(80,1206.3) rotate(-90) scale(1.0060,1.0121)" font-size="73.33" font-weight="700" fill="#262626">R</text><text transform="translate(80.2,1151.29) rotate(-90) scale(1.1727,1.0390)" font-size="73.33" font-weight="700" fill="#262626">a</text><text transform="translate(80.15,1107.96) rotate(-90) scale(1.2600,1.1020)" font-size="73.33" font-weight="700" fill="#262626">t</text><text transform="translate(80,1076.94) rotate(-90) scale(1.2096,0.9955)" font-size="73.33" font-weight="700" fill="#262626">i</text><text transform="translate(80.2,1052.72) rotate(-90) scale(1.2570,1.0346)" font-size="73.33" font-weight="700" fill="#262626">o</text></g>
<g><text transform="translate(497.55,2628.38) scale(1.0706,1.0232)" font-size="64.17" font-weight="700" fill="#262626">C</text><text transform="translate(544.2,2628.38) scale(1.2570,1.0346)" font-size="64.17" font-weight="700" fill="#262626">o</text><text transform="translate(583.74,2628.2) scale(1.1842,1.0288)" font-size="64.17" font-weight="700" fill="#262626">n</text><text transform="translate(626.29,2628.33) scale(1.2600,1.1020)" font-size="64.17" font-weight="700" fill="#262626">t</text><text transform="translate(652.81,2628.2) scale(1.1688,1.0237)" font-size="64.17" font-weight="700" fill="#262626">r</text><text transform="translate(683.2,2628.38) scale(1.2570,1.0346)" font-size="64.17" font-weight="700" fill="#262626">o</text><text transform="translate(723.27,2628.2) scale(1.2088,0.9955)" font-size="64.17" font-weight="700" fill="#262626">l</text></g>
<g><text transform="translate(1158.89,2628.2) scale(1.0251,1.0040)" font-size="64.17" font-weight="700" fill="#262626">A</text><text transform="translate(1205.26,2628.2) scale(1.1532,1.0288)" font-size="64.17" font-weight="700" fill="#262626">m</text><text transform="translate(1267.38,2628.4) scale(1.1500,0.9999)" font-size="64.17" font-weight="700" fill="#262626">b</text><text transform="translate(1308.05,2628.2) scale(1.2096,0.9955)" font-size="64.17" font-weight="700" fill="#262626">i</text><text transform="translate(1329.46,2628.42) scale(1.3022,1.0383)" font-size="64.17" font-weight="700" fill="#262626">e</text><text transform="translate(1366.99,2628.2) scale(1.1842,1.0288)" font-size="64.17" font-weight="700" fill="#262626">n</text><text transform="translate(1409.54,2628.33) scale(1.2600,1.1020)" font-size="64.17" font-weight="700" fill="#262626">t</text><text transform="translate(1440.51,2633.49) scale(1.1102,1.1079)" font-size="64.17" font-weight="700" fill="#262626" stroke="#262626" stroke-width="3.07" stroke-linejoin="miter">+</text><text transform="translate(1485.09,2628.38) scale(1.1772,1.0232)" font-size="64.17" font-weight="700" fill="#262626">S</text><text transform="translate(1527.58,2628.22) scale(1.1842,1.0288)" font-size="64.17" font-weight="700" fill="#262626">u</text><text transform="translate(1569.49,2628.42) scale(1.2355,1.0359)" font-size="64.17" font-weight="700" fill="#262626">c</text><text transform="translate(1604.98,2628.2) scale(1.1688,1.0237)" font-size="64.17" font-weight="700" fill="#262626">r</text><text transform="translate(1635.38,2628.38) scale(1.2570,1.0346)" font-size="64.17" font-weight="700" fill="#262626">o</text><text transform="translate(1674.94,2628.38) scale(1.3025,1.0346)" font-size="64.17" font-weight="700" fill="#262626">s</text><text transform="translate(1707.34,2628.42) scale(1.3022,1.0383)" font-size="64.17" font-weight="700" fill="#262626">e</text></g>
<g><text transform="translate(2070.12,2628.2) scale(1.0083,1.0121)" font-size="64.17" font-weight="700" fill="#262626">E</text><text transform="translate(2113.43,2628.2) scale(1.2088,0.9955)" font-size="64.17" font-weight="700" fill="#262626">l</text><text transform="translate(2134.64,2628.42) scale(1.3022,1.0383)" font-size="64.17" font-weight="700" fill="#262626">e</text><text transform="translate(2171.16,2627.56) scale(1.1347,1.0063)" font-size="64.17" font-weight="700" fill="#262626">v</text><text transform="translate(2206.09,2628.37) scale(1.1727,1.0390)" font-size="64.17" font-weight="700" fill="#262626">a</text><text transform="translate(2244,2628.33) scale(1.2600,1.1020)" font-size="64.17" font-weight="700" fill="#262626">t</text><text transform="translate(2270.39,2628.42) scale(1.3022,1.0383)" font-size="64.17" font-weight="700" fill="#262626">e</text><text transform="translate(2307.4,2628.4) scale(1.1436,0.9999)" font-size="64.17" font-weight="700" fill="#262626">d</text> <text transform="translate(2368.16,2628.38) scale(1.0706,1.0232)" font-size="64.17" font-weight="700" fill="#262626">C</text><text transform="translate(2414.65,2628.38) scale(1.0507,1.0232)" font-size="64.17" font-weight="700" fill="#262626">O</text><text transform="translate(2466.73,2616) scale(1.2412,0.9334)" font-size="64.17" font-weight="700" fill="#262626">₂</text></g>
<g><text transform="translate(2744.24,2628.2) scale(1.0083,1.0121)" font-size="64.17" font-weight="700" fill="#262626">E</text><text transform="translate(2787.55,2628.2) scale(1.2088,0.9955)" font-size="64.17" font-weight="700" fill="#262626">l</text><text transform="translate(2808.77,2628.42) scale(1.3022,1.0383)" font-size="64.17" font-weight="700" fill="#262626">e</text><text transform="translate(2845.29,2627.56) scale(1.1347,1.0063)" font-size="64.17" font-weight="700" fill="#262626">v</text><text transform="translate(2880.21,2628.37) scale(1.1727,1.0390)" font-size="64.17" font-weight="700" fill="#262626">a</text><text transform="translate(2918.13,2628.33) scale(1.2600,1.1020)" font-size="64.17" font-weight="700" fill="#262626">t</text><text transform="translate(2944.52,2628.42) scale(1.3022,1.0383)" font-size="64.17" font-weight="700" fill="#262626">e</text><text transform="translate(2981.52,2628.4) scale(1.1436,0.9999)" font-size="64.17" font-weight="700" fill="#262626">d</text> <text transform="translate(3042.28,2628.38) scale(1.0706,1.0232)" font-size="64.17" font-weight="700" fill="#262626">C</text><text transform="translate(3088.77,2628.38) scale(1.0507,1.0232)" font-size="64.17" font-weight="700" fill="#262626">O</text><text transform="translate(3140.85,2616) scale(1.2412,0.9334)" font-size="64.17" font-weight="700" fill="#262626">₂</text><text transform="translate(3170.1,2633.49) scale(1.1102,1.1079)" font-size="64.17" font-weight="700" fill="#262626" stroke="#262626" stroke-width="3.07" stroke-linejoin="miter">+</text><text transform="translate(3214.68,2628.38) scale(1.1772,1.0232)" font-size="64.17" font-weight="700" fill="#262626">S</text><text transform="translate(3257.17,2628.22) scale(1.1842,1.0288)" font-size="64.17" font-weight="700" fill="#262626">u</text><text transform="translate(3299.08,2628.42) scale(1.2355,1.0359)" font-size="64.17" font-weight="700" fill="#262626">c</text><text transform="translate(3334.57,2628.2) scale(1.1688,1.0237)" font-size="64.17" font-weight="700" fill="#262626">r</text><text transform="translate(3364.97,2628.38) scale(1.2570,1.0346)" font-size="64.17" font-weight="700" fill="#262626">o</text><text transform="translate(3404.53,2628.38) scale(1.3025,1.0346)" font-size="64.17" font-weight="700" fill="#262626">s</text><text transform="translate(3436.93,2628.42) scale(1.3022,1.0383)" font-size="64.17" font-weight="700" fill="#262626">e</text></g>
<g><text transform="translate(113.56,2526.23) scale(1.0811,1.0190)" font-size="45.83" font-weight="400" fill="#262626" stroke="#262626" stroke-width="0.7">0</text><text transform="translate(140.12,2526.04) scale(0.9993,1.0028)" font-size="45.83" font-weight="400" fill="#262626" stroke="#262626" stroke-width="0.7">.</text><text transform="translate(153.31,2526.23) scale(1.0811,1.0190)" font-size="45.83" font-weight="400" fill="#262626" stroke="#262626" stroke-width="0.7">0</text></g>
<g><text transform="translate(113.56,2076.78) scale(1.0811,1.0190)" font-size="45.83" font-weight="400" fill="#262626" stroke="#262626" stroke-width="0.7">0</text><text transform="translate(140.12,2076.59) scale(0.9993,1.0028)" font-size="45.83" font-weight="400" fill="#262626" stroke="#262626" stroke-width="0.7">.</text><text transform="translate(153.15,2076.78) scale(1.0699,1.0166)" font-size="45.83" font-weight="400" fill="#262626" stroke="#262626" stroke-width="0.7">5</text></g>
<g><text transform="translate(113.91,1627.2) scale(0.9611,1.0221)" font-size="45.83" font-weight="400" fill="#262626" stroke="#262626" stroke-width="0.7">1</text><text transform="translate(140.12,1627.14) scale(0.9993,1.0028)" font-size="45.83" font-weight="400" fill="#262626" stroke="#262626" stroke-width="0.7">.</text><text transform="translate(153.31,1627.33) scale(1.0811,1.0190)" font-size="45.83" font-weight="400" fill="#262626" stroke="#262626" stroke-width="0.7">0</text></g>
<g><text transform="translate(113.91,1177.75) scale(0.9611,1.0221)" font-size="45.83" font-weight="400" fill="#262626" stroke="#262626" stroke-width="0.7">1</text><text transform="translate(140.12,1177.69) scale(0.9993,1.0028)" font-size="45.83" font-weight="400" fill="#262626" stroke="#262626" stroke-width="0.7">.</text><text transform="translate(153.15,1177.88) scale(1.0699,1.0166)" font-size="45.83" font-weight="400" fill="#262626" stroke="#262626" stroke-width="0.7">5</text></g>
<g><text transform="translate(113.38,728.3) scale(1.0664,1.0189)" font-size="45.83" font-weight="400" fill="#262626" stroke="#262626" stroke-width="0.7">2</text><text transform="translate(140.12,728.24) scale(0.9993,1.0028)" font-size="45.83" font-weight="400" fill="#262626" stroke="#262626" stroke-width="0.7">.</text><text transform="translate(153.31,728.43) scale(1.0811,1.0190)" font-size="45.83" font-weight="400" fill="#262626" stroke="#262626" stroke-width="0.7">0</text></g>
<g><text transform="translate(113.38,278.85) scale(1.0664,1.0189)" font-size="45.83" font-weight="400" fill="#262626" stroke="#262626" stroke-width="0.7">2</text><text transform="translate(140.12,278.79) scale(0.9993,1.0028)" font-size="45.83" font-weight="400" fill="#262626" stroke="#262626" stroke-width="0.7">.</text><text transform="translate(153.15,278.98) scale(1.0699,1.0166)" font-size="45.83" font-weight="400" fill="#262626" stroke="#262626" stroke-width="0.7">5</text></g>
<g><text transform="translate(3004.63,303.4) scale(0.9889,1.0121)" font-size="50.42" font-weight="400" fill="#262626" stroke="#262626" stroke-width="0.7">I</text><text transform="translate(3022.34,303.4) scale(1.1419,1.0288)" font-size="50.42" font-weight="400" fill="#262626" stroke="#262626" stroke-width="0.7">n</text><text transform="translate(3051.75,303.56) scale(1.1289,0.9999)" font-size="50.42" font-weight="400" fill="#262626" stroke="#262626" stroke-width="0.7">d</text><text transform="translate(3081.47,303.4) scale(0.9969,1.0101)" font-size="50.42" font-weight="400" fill="#262626" stroke="#262626" stroke-width="0.7">i</text><text transform="translate(3095.39,302.9) scale(1.0273,1.0063)" font-size="50.42" font-weight="400" fill="#262626" stroke="#262626" stroke-width="0.7">v</text><text transform="translate(3122.02,303.4) scale(0.9969,1.0101)" font-size="50.42" font-weight="400" fill="#262626" stroke="#262626" stroke-width="0.7">i</text><text transform="translate(3136.3,303.56) scale(1.1289,0.9999)" font-size="50.42" font-weight="400" fill="#262626" stroke="#262626" stroke-width="0.7">d</text><text transform="translate(3165.9,303.54) scale(1.1222,1.0339)" font-size="50.42" font-weight="400" fill="#262626" stroke="#262626" stroke-width="0.7">u</text><text transform="translate(3195.1,303.54) scale(1.1921,1.0390)" font-size="50.42" font-weight="400" fill="#262626" stroke="#262626" stroke-width="0.7">a</text><text transform="translate(3222.57,303.4) scale(0.9987,0.9955)" font-size="50.42" font-weight="400" fill="#262626" stroke="#262626" stroke-width="0.7">l</text> <text transform="translate(3251.81,303.4) scale(1.3204,1.0288)" font-size="50.42" font-weight="400" fill="#262626" stroke="#262626" stroke-width="0.7">r</text><text transform="translate(3273.3,303.54) scale(1.2088,1.0346)" font-size="50.42" font-weight="400" fill="#262626" stroke="#262626" stroke-width="0.7">e</text><text transform="translate(3300.91,302.36) scale(1.1467,0.9849)" font-size="50.42" font-weight="400" fill="#262626" stroke="#262626" stroke-width="0.7">p</text><text transform="translate(3330.17,303.4) scale(0.9987,0.9955)" font-size="50.42" font-weight="400" fill="#262626" stroke="#262626" stroke-width="0.7">l</text><text transform="translate(3345.12,303.4) scale(0.9969,1.0101)" font-size="50.42" font-weight="400" fill="#262626" stroke="#262626" stroke-width="0.7">i</text><text transform="translate(3359.3,303.54) scale(1.1258,1.0346)" font-size="50.42" font-weight="400" fill="#262626" stroke="#262626" stroke-width="0.7">c</text><text transform="translate(3385.02,303.54) scale(1.1921,1.0390)" font-size="50.42" font-weight="400" fill="#262626" stroke="#262626" stroke-width="0.7">a</text><text transform="translate(3412.86,303.5) scale(1.2667,1.1020)" font-size="50.42" font-weight="400" fill="#262626" stroke="#262626" stroke-width="0.7">t</text><text transform="translate(3430.49,303.54) scale(1.2088,1.0346)" font-size="50.42" font-weight="400" fill="#262626" stroke="#262626" stroke-width="0.7">e</text><text transform="translate(3457.83,303.54) scale(1.1828,1.0346)" font-size="50.42" font-weight="400" fill="#262626" stroke="#262626" stroke-width="0.7">s</text></g>
<g><text transform="translate(3004.72,372.4) scale(1.0099,1.0121)" font-size="50.42" font-weight="400" fill="#262626" stroke="#262626" stroke-width="0.7">M</text><text transform="translate(3050.73,372.54) scale(1.2088,1.0346)" font-size="50.42" font-weight="400" fill="#262626" stroke="#262626" stroke-width="0.7">e</text><text transform="translate(3078.13,372.54) scale(1.1921,1.0390)" font-size="50.42" font-weight="400" fill="#262626" stroke="#262626" stroke-width="0.7">a</text><text transform="translate(3105.61,372.4) scale(1.1419,1.0288)" font-size="50.42" font-weight="400" fill="#262626" stroke="#262626" stroke-width="0.7">n</text></g>
<g><text transform="translate(3004.72,440.4) scale(1.0099,1.0121)" font-size="50.42" font-weight="400" fill="#262626" stroke="#262626" stroke-width="0.7">M</text><text transform="translate(3050.73,440.54) scale(1.2088,1.0346)" font-size="50.42" font-weight="400" fill="#262626" stroke="#262626" stroke-width="0.7">e</text><text transform="translate(3078.18,440.56) scale(1.1289,0.9999)" font-size="50.42" font-weight="400" fill="#262626" stroke="#262626" stroke-width="0.7">d</text><text transform="translate(3107.9,440.4) scale(0.9969,1.0101)" font-size="50.42" font-weight="400" fill="#262626" stroke="#262626" stroke-width="0.7">i</text><text transform="translate(3122.12,440.54) scale(1.1921,1.0390)" font-size="50.42" font-weight="400" fill="#262626" stroke="#262626" stroke-width="0.7">a</text><text transform="translate(3149.61,440.4) scale(1.1419,1.0288)" font-size="50.42" font-weight="400" fill="#262626" stroke="#262626" stroke-width="0.7">n</text></g>
<g><text transform="translate(2656.82,486.69) scale(1.0546,1.1279)" font-size="73.33" font-weight="400" fill="#262626" stroke="#262626" stroke-width="0.7">*</text><text transform="translate(2690.15,486.69) scale(1.0546,1.1279)" font-size="73.33" font-weight="400" fill="#262626" stroke="#262626" stroke-width="0.7">*</text></g>
</g>
</svg>
</body></html>
